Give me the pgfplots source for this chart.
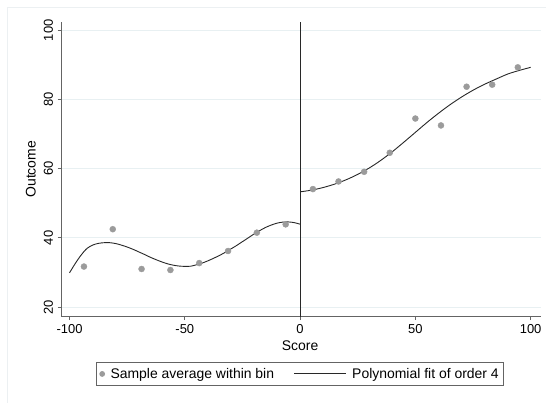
\documentclass[border=0pt]{standalone}
\usepackage{fontspec}
\setmainfont{Liberation Sans}
\usepackage{pgfplots}
\pgfplotsset{compat=1.18}
\definecolor{ptgray}{RGB}{155,155,155}
\definecolor{fitline}{RGB}{40,40,40}
\definecolor{axgray}{RGB}{100,100,100}
\definecolor{gridc}{RGB}{232,240,242}
\definecolor{framec}{RGB}{236,240,242}
\begin{document}
\begin{tikzpicture}[x=1bp,y=1bp]
\useasboundingbox (0,0) rectangle (546,403);
\fill[white] (0,0) rectangle (546,403);
\draw[framec, line width=0.8bp] (7,0) -- (7,396) -- (546,396);
\begin{axis}[
 at={(61bp,86.3bp)}, anchor=south west,
 scale only axis, width=480bp, height=295bp,
 xmin=-103.7, xmax=104.5, ymin=17.2, ymax=102.5,
 axis x line*=bottom, axis y line*=left,
 axis line style={axgray, line width=1bp, -},
 tick align=outside, major tick length=3.5bp,
 tick style={axgray, line width=0.9bp},
 xtick={-100,-50,0,50,100}, xticklabels={-100,-50,0,50,100},
 ytick={20,40,60,80,100}, yticklabels={20,40,60,80,100},
 ymajorgrids, grid style={gridc, line width=1bp},
 ticklabel style={font=\fontsize{13}{15}\selectfont},
 xticklabel style={anchor=center, yshift=-9.3bp},
 yticklabel style={xshift=-9bp, rotate=90, anchor=center},
 xlabel={Score}, ylabel={Outcome},
 label style={font=\fontsize{14}{16}\selectfont},
 xlabel style={at={(axis description cs:0.498,0)}, anchor=center, yshift=-29.3bp},
 ylabel style={at={([xshift=-30.3bp]axis description cs:0,0.5)}, anchor=center},
 legend style={at={(0.498,-0.1525)}, anchor=north, legend columns=2, draw=axgray, line width=0.9bp,
   font=\fontsize{14}{16}\selectfont, inner xsep=3bp, inner ysep=4bp, nodes={inner sep=2bp},
   /tikz/every odd column/.append style={column sep=3.5bp},
   /tikz/every even column/.append style={column sep=17.7bp}},
 legend cell align=left,
]
\addplot[forget plot, fitline, line width=1bp] coordinates {(0,17.2) (0,102.5)};
\addplot[only marks, mark=*, mark size=3bp, color=ptgray, mark options={draw=none, fill=ptgray},
  legend image code/.code={\fill[ptgray] (0bp,0bp) circle (2.4bp);}]
 coordinates {
 (-93.75,31.7) (-81.25,42.5) (-68.75,31.0) (-56.25,30.7) (-43.75,32.7) (-31.25,36.2) (-18.75,41.5) (-6.25,43.9)
 (5.56,54.1) (16.67,56.3) (27.78,59.1) (38.89,64.6) (50,74.5) (61.11,72.5) (72.22,83.7) (83.33,84.3) (94.44,89.3)
 };
\addlegendentry{Sample average within bin}
\addplot[fitline, line width=0.9bp, smooth,
  legend image code/.code={\draw[fitline, line width=0.9bp] (0bp,0bp) -- (52bp,0bp);}]
 coordinates {
 (-100,29.9) (-97.5,32.6) (-95,35.0) (-92.5,36.9) (-90,37.9) (-87.5,38.4) (-85,38.6) (-82.5,38.6)
 (-80,38.35) (-77.5,37.9) (-75,37.35) (-72.5,36.7) (-70,35.95) (-67.5,35.2) (-65,34.4) (-62.5,33.7)
 (-60,33.05) (-57.5,32.5) (-55,32.1) (-52.5,31.85) (-50,31.75) (-47.5,31.8) (-45,32.2) (-42.5,32.7)
 (-40,33.35) (-37.5,34.1) (-35,34.9) (-32.5,35.8) (-30,36.8) (-27.5,37.8) (-25,38.9) (-22.5,40.0)
 (-20,41.1) (-17.5,42.1) (-15,43.0) (-12.5,43.7) (-10,44.25) (-7.5,44.55) (-5,44.6) (-2.5,44.4) (0,43.95)
 };
\addlegendentry{Polynomial fit of order 4}
\addplot[forget plot, fitline, line width=0.9bp, smooth]
 coordinates {
 (0,53.3) (5,53.8) (10,54.55) (15,55.54) (20,56.8) (25,58.35) (30,60.2) (35,62.4) (40,64.9)
 (45,67.66) (50,70.5) (55,73.34) (60,76.0) (65,78.48) (70,80.7) (75,82.68) (80,84.4) (85,85.9)
 (90,87.35) (95,88.4) (100,89.3)
 };
\end{axis}
\end{tikzpicture}
\end{document}
